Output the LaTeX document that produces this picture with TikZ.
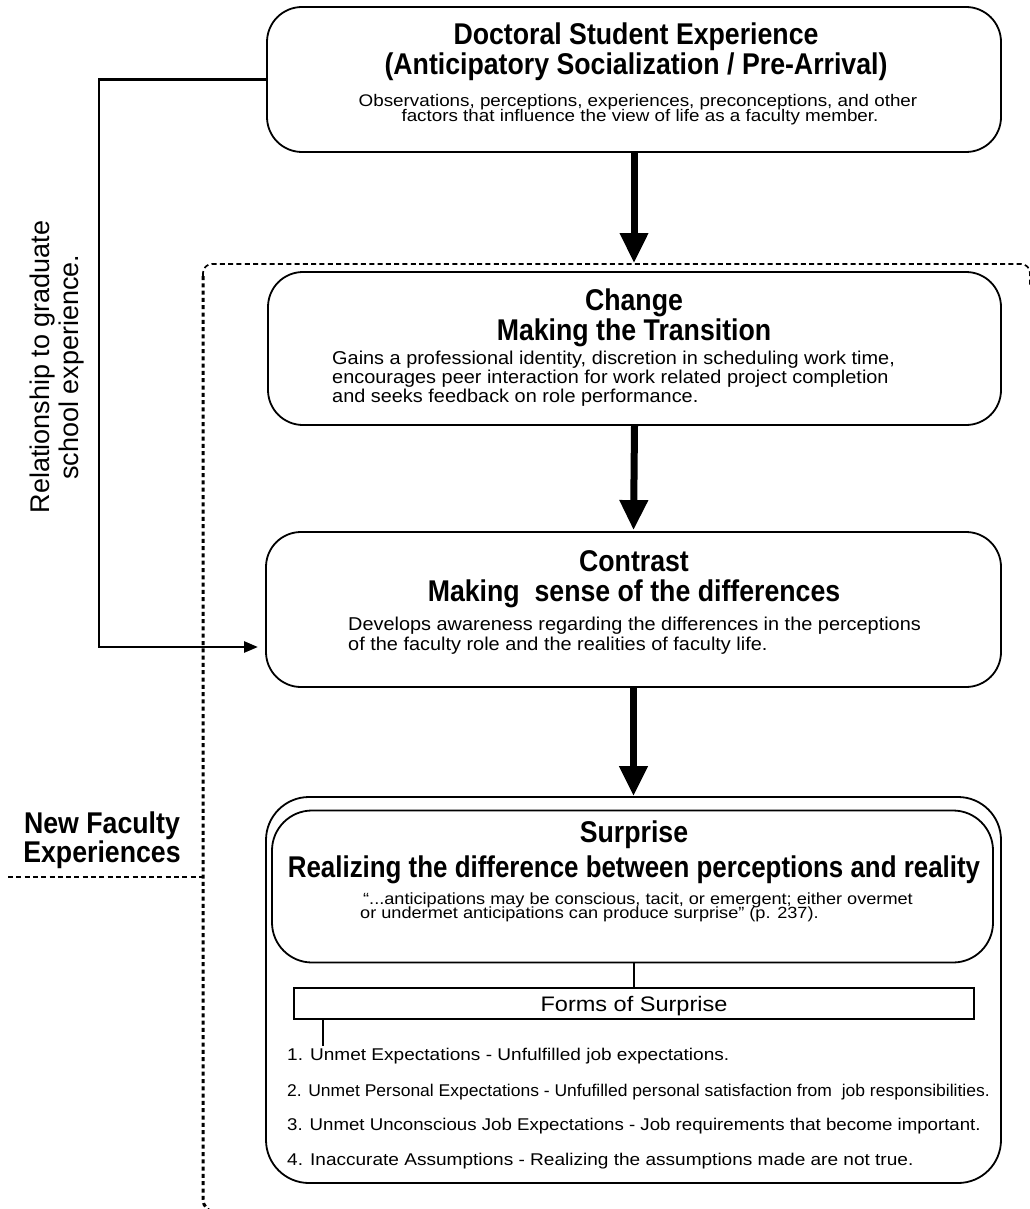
\documentclass[tikz,border=0pt]{standalone}
\usepackage{fontspec}
\setmainfont{Liberation Sans}
\newfontfamily\titlefont[FakeStretch=0.89]{Liberation Sans}
\newfontfamily\bodyfont[FakeStretch=1.07]{Liberation Sans}
\newfontfamily\widefont[FakeStretch=1.12]{Liberation Sans}
\usetikzlibrary{arrows.meta}
\begin{document}
\begin{tikzpicture}[x=1pt,y=-1pt,
  box/.style={draw, line width=1.8pt, rounded corners=35pt, inner sep=0pt},
  ttl/.style={font=\titlefont\bfseries\fontsize{30}{32}\selectfont, inner sep=0pt, anchor=base},
  smallbody/.style={font=\widefont\fontsize{16.8}{14}\selectfont, inner sep=0pt, anchor=base},
  quote/.style={font=\widefont\fontsize{16.2}{14}\selectfont, inner sep=0pt, anchor=base west},
  body/.style={font=\bodyfont\fontsize{18.6}{19}\selectfont, inner sep=0pt, anchor=base west},
  item/.style={font=\widefont\fontsize{17}{17}\selectfont, inner sep=0pt, anchor=base west},
  bigarrow/.style={line width=7pt, -{Triangle[width=27pt,length=30pt]}},
  thinarrow/.style={line width=2.7pt, -{Triangle[width=11pt,length=14pt]}},
  topdash/.style={line width=1.7pt, dash pattern=on 5pt off 3.3pt},
  leftdot/.style={line width=3pt, dash pattern=on 4pt off 3.3pt},
  connector/.style={line width=2pt}
]
\useasboundingbox (0,0) rectangle (1029,1209);

% dotted frame
\draw[topdash, rounded corners=9pt] (203,276) -- (203,264) -- (1030,264) -- (1030,285);
\draw[leftdot, rounded corners=14pt] (203,276) -- (203,1213) -- (240,1213);
\draw[topdash] (8,877) -- (203,877);

% New Faculty label
\node[ttl] (nf1) at (102,833) {New Faculty};
\node[ttl] (nf2) at (102,862) {Experiences};

% rotated label
\node[rotate=90, align=center, font=\fontsize{27}{29}\selectfont, inner sep=0pt] (rel) at (57,367)
  {Relationship to graduate\\school experience.};

% Doctoral box
\node[box, minimum width=734pt, minimum height=145pt] (doc) at (634,79.5) {};
\node[ttl] (docT1) at (636,45) {Doctoral Student Experience};
\node[ttl] (docT2) at (636,75) {(Anticipatory Socialization / Pre-Arrival)};
\node[smallbody] (docB1) at (638,107) {Observations, perceptions, experiences, preconceptions, and other};
\node[smallbody] (docB2) at (640,122) {factors that influence the view of life as a faculty member.};

% Change box
\node[box, minimum width=733pt, minimum height=153pt] (chg) at (634.5,348.5) {};
\node[ttl] (chgT1) at (634,310) {Change};
\node[ttl] (chgT2) at (634,340) {Making the Transition};
\node[body] (chgB1) at (332,364) {Gains a professional identity, discretion in scheduling work time,};
\node[body] (chgB2) at (332,383) {encourages peer interaction for work related project completion};
\node[body] (chgB3) at (332,402) {and seeks feedback on role performance.};

% Contrast box
\node[box, minimum width=735pt, minimum height=155pt] (con) at (633.5,609.5) {};
\node[ttl] (conT1) at (634,571) {Contrast};
\node[ttl] (conT2) at (634,601) {Making~ sense of the differences};
\node[body] (conB1) at (348,630) {Develops awareness regarding the differences in the perceptions};
\node[body] (conB2) at (348,650) {of the faculty role and the realities of faculty life.};

% Surprise boxes
\node[box, rounded corners=43pt, minimum width=735pt, minimum height=386pt] (outer) at (633.5,990) {};
\node[box, rounded corners=40pt, minimum width=721pt, minimum height=152pt] (inner) at (632.5,886.5) {};
\node[ttl] (surT1) at (634,842) {Surprise};
\node[ttl] (surT2) at (634,877) {\scalebox{0.97}[1]{Realizing the difference between perceptions and reality}};
\node[quote] (q1) at (363,904) {“...anticipations may be conscious, tacit, or emergent; either overmet};
\node[quote] (q2) at (360,918) {or undermet anticipations can produce surprise” (p. 237).};

\node[draw, line width=2pt, minimum width=680pt, minimum height=31pt, inner sep=0pt] (forms) at (634,1003.5) {};
\node[font=\widefont\fontsize{21}{21}\selectfont, inner sep=0pt, anchor=base] (formsT) at (634,1011) {Forms of Surprise};

\node[item] (it1) at (287,1060) {1. Unmet Expectations - Unfulfilled job expectations.};
\node[item] (it2) at (287,1096) {\scalebox{0.92}[1]{2. Unmet Personal Expectations - Unfufilled personal satisfaction from \ job responsibilities.}};
\node[item] (it3) at (287,1130) {\scalebox{0.98}[1]{3. Unmet Unconscious Job Expectations - Job requirements that become important.}};
\node[item] (it4) at (287,1165) {4. Inaccurate Assumptions - Realizing the assumptions made are not true.};

% connectors
\coordinate (a1end) at (634,263);
\coordinate (it1top) at (323,1046);
\coordinate (lcorner) at (99,647);
\coordinate (ctip) at (258,647);

\draw[bigarrow] (doc.south) -- (a1end);
\draw[bigarrow, shorten >=1pt] (chg.south) -- (con.north);
\draw[bigarrow] (con.south) -- (outer.north);
\draw[thinarrow] (doc.west) -| (lcorner) -- (ctip);
\draw[connector] (inner.south -| forms.north) -- (forms.north);
\draw[connector] (it1top |- forms.south) -- (it1top);
\end{tikzpicture}
\end{document}
